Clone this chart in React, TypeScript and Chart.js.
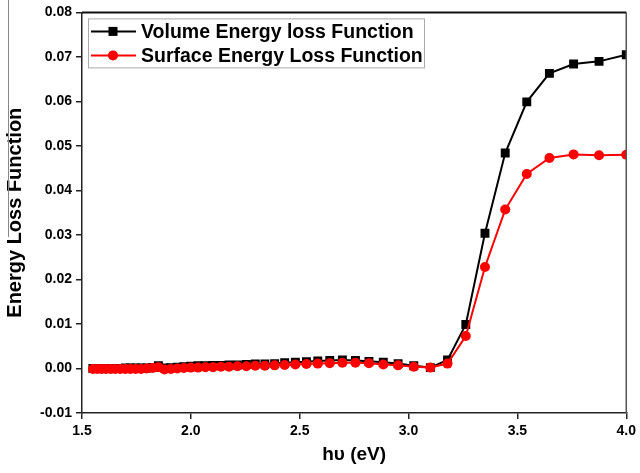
import React, { useEffect, useRef } from "react";
import { Chart, registerables } from "chart.js";

Chart.register(...registerables);

const photonEnergy = [
  1.55, 1.57, 1.59, 1.61, 1.632, 1.653, 1.676, 1.699, 1.722, 1.746,
  1.771, 1.797, 1.824, 1.851, 1.879, 1.908, 1.938, 1.968, 2.0, 2.033,
  2.067, 2.102, 2.138, 2.175, 2.214, 2.255, 2.296, 2.34, 2.385, 2.431,
  2.48, 2.531, 2.583, 2.638, 2.696, 2.756, 2.818, 2.884, 2.952, 3.024,
  3.1, 3.179, 3.263, 3.351, 3.444, 3.543, 3.647, 3.758, 3.875, 4.0,
];

const volumeLoss = [
  0.0, 0.0, 0.0, 0.0, 0.0, 0.0, 0.0, 0.0001, 0.0001, 0.0001,
  0.0001, 0.0001, 0.0002, 0.0006, 0.0001, 0.0002, 0.0003, 0.0004, 0.0005, 0.0006,
  0.0006, 0.0007, 0.0007, 0.0008, 0.0008, 0.0009, 0.001, 0.001, 0.0011, 0.0013,
  0.0014, 0.0015, 0.0017, 0.0018, 0.0019, 0.0018, 0.0016, 0.0014, 0.0011, 0.0006,
  0.0002, 0.0019, 0.0099, 0.0304, 0.0484, 0.0599, 0.0663, 0.0684, 0.069, 0.0705,
];

const surfaceLoss = [
  -0.0001, -0.0001, -0.0001, -0.0001, -0.0001, -0.0001, -0.0001, -0.0001, -0.0001, -0.0001,
  -0.0001, 0.0, 0.0001, 0.0003, -0.0002, -0.0001, 0.0, 0.0001, 0.0002, 0.0002,
  0.0003, 0.0003, 0.0004, 0.0004, 0.0005, 0.0005, 0.0006, 0.0006, 0.0007, 0.0008,
  0.0009, 0.001, 0.0011, 0.0012, 0.0013, 0.0013, 0.0012, 0.0009, 0.0007, 0.0004,
  0.0002, 0.0011, 0.0073, 0.0228, 0.0357, 0.0437, 0.0473, 0.0481, 0.0479, 0.048,
];

const seriesNames = ["Volume Energy loss Function", "Surface Energy Loss Function"];
const xTitle = "hυ (eV)";
const yTitle = "Energy Loss Function";

const FONT = "'Liberation Sans', Arial, sans-serif";

const framePlugin = {
  id: "framePlugin",
  afterDraw(chart: any) {
    const { ctx, chartArea } = chart;
    const { left, right, top, bottom } = chartArea;
    ctx.save();
    // frame
    ctx.strokeStyle = "#555";
    ctx.lineWidth = 1.5;
    ctx.beginPath();
    ctx.moveTo(right, top);
    ctx.lineTo(right, bottom);
    ctx.stroke();
    ctx.strokeStyle = "#111";
    ctx.lineWidth = 2;
    ctx.beginPath();
    ctx.moveTo(left, top);
    ctx.lineTo(right, top);
    ctx.stroke();
    // artifact line near y title
    ctx.strokeStyle = "#888";
    ctx.lineWidth = 1;
    ctx.beginPath();
    ctx.moveTo(8.5, 0);
    ctx.lineTo(8.5, 237);
    ctx.stroke();

    // legend
    const bx = left + 6;
    const by = top + 6;
    const bw = 336;
    const bh = 49;
    ctx.fillStyle = "#fff";
    ctx.fillRect(bx, by, bw, bh);
    ctx.strokeStyle = "#aaa";
    ctx.lineWidth = 1;
    ctx.strokeRect(bx + 0.5, by + 0.5, bw, bh);
    const rows = [
      { name: seriesNames[0], color: "#000", style: "rect" },
      { name: seriesNames[1], color: "#ff0000", style: "circle" },
    ];
    rows.forEach((r, i) => {
      const cy = by + 13 + i * 24;
      ctx.strokeStyle = r.color;
      ctx.lineWidth = 2;
      ctx.beginPath();
      ctx.moveTo(bx + 3, cy);
      ctx.lineTo(bx + 48, cy);
      ctx.stroke();
      ctx.fillStyle = r.color;
      if (r.style === "rect") {
        ctx.fillRect(bx + 25 - 4.5, cy - 4.5, 9, 9);
      } else {
        ctx.beginPath();
        ctx.arc(bx + 25, cy, 5, 0, Math.PI * 2);
        ctx.fill();
      }
      ctx.fillStyle = "#000";
      ctx.font = `bold 19.5px ${FONT}`;
      ctx.textBaseline = "middle";
      ctx.textAlign = "left";
      ctx.fillText(r.name, bx + 53, cy + 1);
    });
    ctx.restore();
  },
};

export default function App() {
  const ref = useRef<HTMLCanvasElement | null>(null);

  useEffect(() => {
    if (!ref.current) return;
    const chart = new Chart(ref.current, {
      type: "line",
      data: {
        datasets: [
          {
            label: seriesNames[0],
            data: photonEnergy.map((x, i) => ({ x, y: volumeLoss[i] })),
            borderColor: "#000",
            backgroundColor: "#000",
            borderWidth: 2,
            pointStyle: "rect",
            pointRadius: 6.3,
            pointBorderWidth: 0,
            tension: 0,
            order: 1,
          },
          {
            label: seriesNames[1],
            data: photonEnergy.map((x, i) => ({ x, y: surfaceLoss[i] })),
            borderColor: "#ff0000",
            backgroundColor: "#ff0000",
            borderWidth: 2,
            pointStyle: "circle",
            pointRadius: 5,
            pointBorderWidth: 0,
            tension: 0,
            order: 0,
          },
        ],
      },
      options: {
        animation: false,
        responsive: true,
        maintainAspectRatio: false,
        layout: { padding: { left: 0, top: 12, right: 12, bottom: 0 } },
        plugins: {
          legend: { display: false },
          tooltip: { enabled: false },
        },
        scales: {
          x: {
            type: "linear",
            min: 1.5,
            max: 4.0,
            ticks: {
              stepSize: 0.5,
              color: "#000",
              font: { family: FONT, size: 14, weight: "bold" },
              padding: 4,
              callback: (v: any) => Number(v).toFixed(1),
            },
            grid: {
              drawOnChartArea: false,
              drawTicks: true,
              tickLength: 6,
              color: "#222",
              lineWidth: 1.5,
            },
            border: { display: true, color: "#222", width: 1.5 },
            title: {
              display: true,
              text: xTitle,
              color: "#000",
              font: { family: FONT, size: 19, weight: "bold" },
              padding: { top: 0, bottom: 7 },
            },
            afterFit: (s: any) => {
              s.height = 60;
            },
          },
          y: {
            type: "linear",
            min: -0.01,
            max: 0.08,
            ticks: {
              stepSize: 0.01,
              color: "#000",
              font: { family: FONT, size: 14, weight: "bold" },
              padding: 4,
              callback: (v: any) => Number(v).toFixed(2),
            },
            grid: {
              drawOnChartArea: false,
              drawTicks: true,
              tickLength: 6,
              color: "#222",
              lineWidth: 1.5,
            },
            border: { display: true, color: "#222", width: 1.5 },
            title: {
              display: true,
              text: yTitle,
              color: "#000",
              font: { family: FONT, size: 20, weight: "bold" },
              padding: { top: 3, bottom: 0 },
            },
            afterFit: (s: any) => {
              s.width = 82;
            },
          },
        },
      },
      plugins: [framePlugin],
    });
    return () => chart.destroy();
  }, []);

  return (
    <div style={{ position: "absolute", left: 0, top: 0, width: 640, height: 473, background: "#fff" }}>
      <canvas ref={ref} />
    </div>
  );
}
